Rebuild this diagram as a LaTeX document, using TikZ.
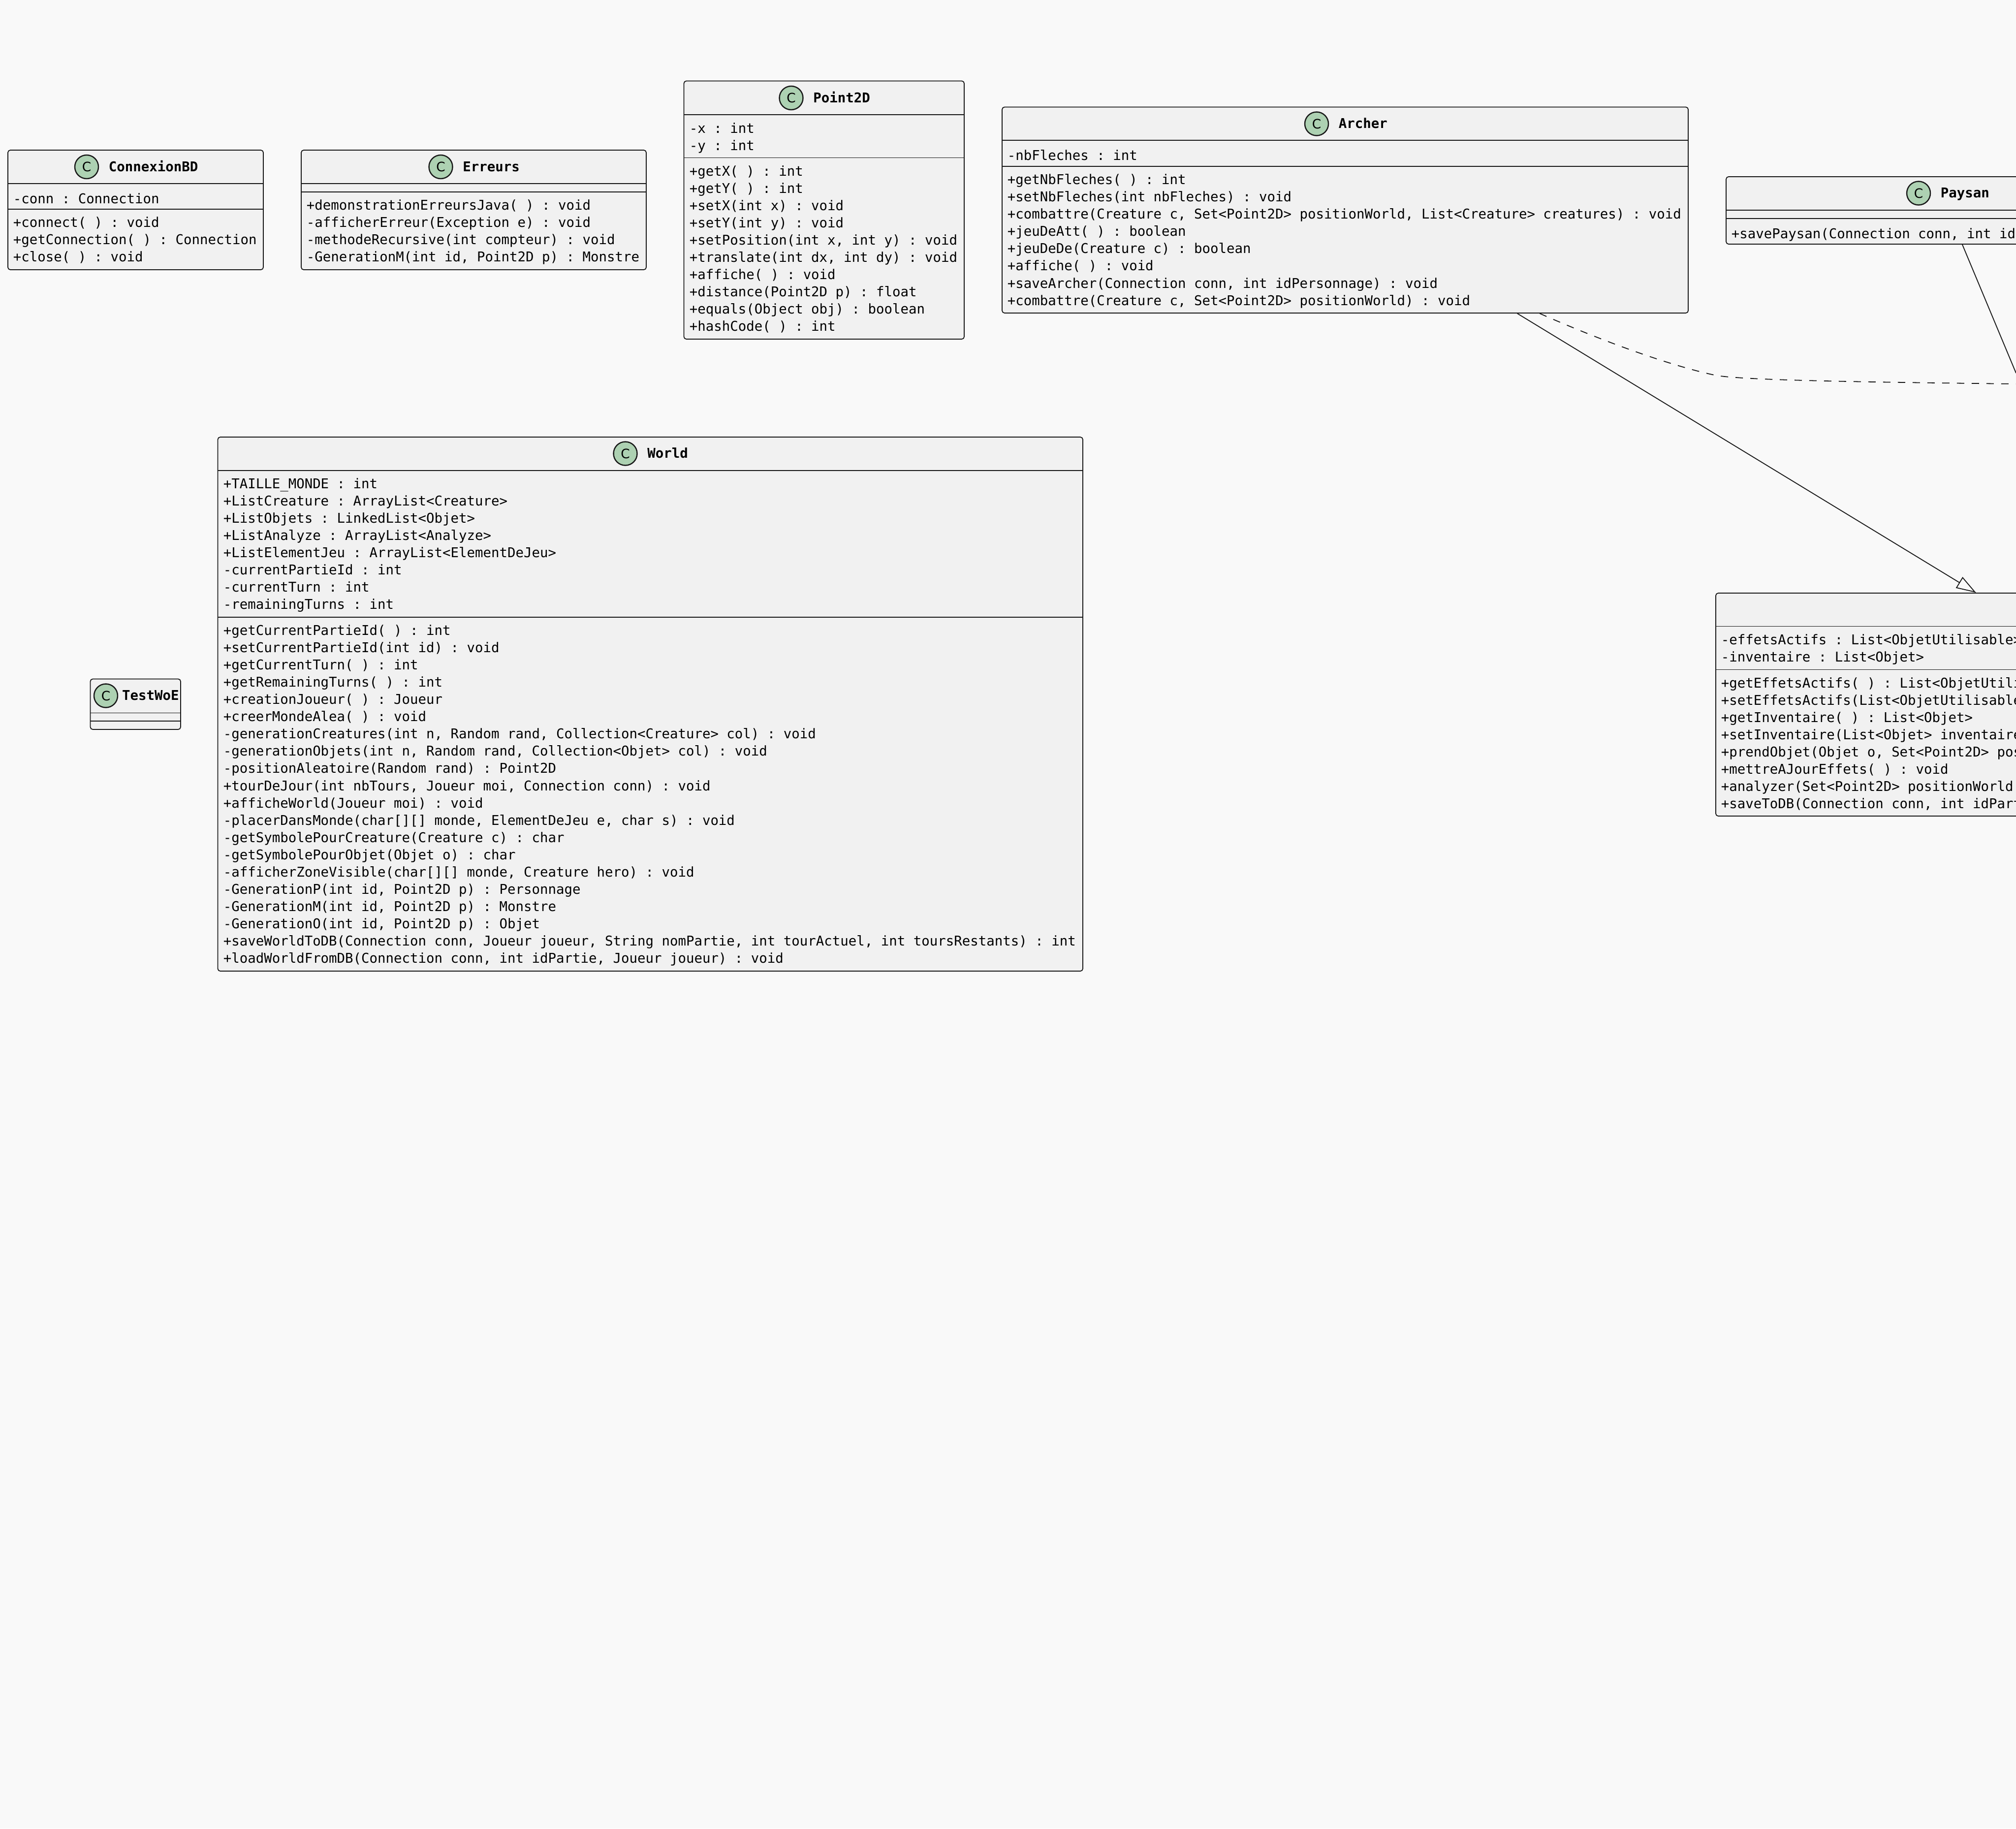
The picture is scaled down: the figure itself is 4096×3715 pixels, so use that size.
\documentclass[tikz,border=0pt]{standalone}
\usepackage{fontspec}
\usetikzlibrary{arrows.meta,fit,positioning}
\newfontfamily\umlfont{DejaVu Sans Mono}
\newfontfamily\badgefont{DejaVu Sans}
\definecolor{pagebg}{HTML}{F9F9F9}
\definecolor{boxbg}{HTML}{F1F1F1}
\definecolor{boxline}{HTML}{181818}
\definecolor{badgebg}{HTML}{ADD1B2}
\begin{document}
\begin{tikzpicture}[x=0.25pt,y=-0.25pt,
				classbox/.style={draw=boxline,fill=boxbg,line width=0.45pt,rounded corners=1.25pt,inner sep=0pt},
				badge/.style={circle,draw=boxline,fill=badgebg,line width=0.6pt,minimum size=12pt,inner sep=0pt,font=\badgefont\fontsize{6.6}{8}\selectfont},
				classname/.style={right=4.7pt of #1,inner sep=0pt,text height=5.5pt,text depth=1pt,font=\umlfont\bfseries\fontsize{6.85}{8.76}\selectfont},
				members/.style={anchor=north west,inner sep=0pt,align=left,execute at begin node=\strut,font=\umlfont\frenchspacing\fontsize{6.85}{8.76}\selectfont},
				sep/.style={draw=boxline,line width=0.45pt},
				inherit/.style={draw=boxline,line width=0.45pt,-{Triangle[open,length=10pt,width=6.5pt]}},
				uses/.style={draw=boxline,line width=0.45pt,dash pattern=on 3.75pt off 3.75pt}]
\useasboundingbox (0,0) rectangle (4096,3715);
\fill[pagebg] (0,0) rectangle (4096,3715);

\node[classbox,fit={(16,305) (535,548)}] (connexion) {};
\draw[sep] (16,373) -- (535,373);
\draw[sep] (16,425) -- (535,425);
\node[badge] (connexionc) at (176,339) {C};
\node[classname=connexionc] (connexionname) {ConnexionBD};
\node[members] (connexionattr) at (26,388) {-conn : Connection};
\node[members] (connexionmeth) at (26,440) {+connect( ) : void\\
	+getConnection( ) : Connection\\
	+close( ) : void};

\node[classbox,fit={(612,305) (1313,548)}] (erreurs) {};
\draw[sep] (612,373) -- (1313,373);
\draw[sep] (612,390) -- (1313,390);
\node[badge] (erreursc) at (895.5,339) {C};
\node[classname=erreursc] (erreursname) {Erreurs};
\node[members] (erreursmeth) at (622,405) {+demonstrationErreursJava( ) : void\\
	-afficherErreur(Exception e) : void\\
	-methodeRecursive(int compteur) : void\\
	-GenerationM(int id, Point2D p) : Monstre};

\node[classbox,fit={(1389.5,164.5) (1959,689)}] (point) {};
\draw[sep] (1389.5,233) -- (1959,233);
\draw[sep] (1389.5,320.5) -- (1959,320.5);
\node[badge] (pointc) at (1607.5,199) {C};
\node[classname=pointc] (pointname) {Point2D};
\node[members] (pointattr) at (1400,248.5) {-x : int\\
	-y : int};
\node[members] (pointmeth) at (1400,335.5) {+getX( ) : int\\
	+getY( ) : int\\
	+setX(int x) : void\\
	+setY(int y) : void\\
	+setPosition(int x, int y) : void\\
	+translate(int dx, int dy) : void\\
	+affiche( ) : void\\
	+distance(Point2D p) : float\\
	+equals(Object obj) : boolean\\
	+hashCode( ) : int};

\node[classbox,fit={(2036,217.5) (3430,636)}] (archer) {};
\draw[sep] (2036,285) -- (3430,285);
\draw[sep] (2036,338) -- (3430,338);
\node[badge] (archerc) at (2675,251.5) {C};
\node[classname=archerc] (archername) {Archer};
\node[members] (archerattr) at (2046,300) {-nbFleches : int};
\node[members] (archermeth) at (2046,353) {+getNbFleches( ) : int\\
	+setNbFleches(int nbFleches) : void\\
	+combattre(Creature c, Set<Point2D> positionWorld, List<Creature> creatures) : void\\
	+jeuDeAtt( ) : boolean\\
	+jeuDeDe(Creature c) : boolean\\
	+affiche( ) : void\\
	+saveArcher(Connection conn, int idPersonnage) : void\\
	+combattre(Creature c, Set<Point2D> positionWorld) : void};

\node[classbox,fit={(3507,359) (4393,496)}] (paysan) {};
\draw[sep] (3507,427) -- (4393,427);
\draw[sep] (3507,444) -- (4393,444);
\node[badge] (paysanc) at (3898,392.5) {C};
\node[classname=paysanc] (paysanname) {Paysan};
\node[members] (paysanmeth) at (3517,459) {+savePaysan(Connection conn, int id};

\node[classbox,fit={(442.5,888) (2200,1973)}] (world) {};
\draw[sep] (442.5,956) -- (2200,956);
\draw[sep] (442.5,1254) -- (2200,1254);
\node[badge] (worldc) at (1270.5,921.5) {C};
\node[classname=worldc] (worldname) {World};
\node[members] (worldattr) at (453,971) {+TAILLE\_MONDE : int\\
	+ListCreature : ArrayList<Creature>\\
	+ListObjets : LinkedList<Objet>\\
	+ListAnalyze : ArrayList<Analyze>\\
	+ListElementJeu : ArrayList<ElementDeJeu>\\
	-currentPartieId : int\\
	-currentTurn : int\\
	-remainingTurns : int};
\node[members] (worldmeth) at (453,1269) {+getCurrentPartieId( ) : int\\
	+setCurrentPartieId(int id) : void\\
	+getCurrentTurn( ) : int\\
	+getRemainingTurns( ) : int\\
	+creationJoueur( ) : Joueur\\
	+creerMondeAlea( ) : void\\
	-generationCreatures(int n, Random rand, Collection<Creature> col) : void\\
	-generationObjets(int n, Random rand, Collection<Objet> col) : void\\
	-positionAleatoire(Random rand) : Point2D\\
	+tourDeJour(int nbTours, Joueur moi, Connection conn) : void\\
	+afficheWorld(Joueur moi) : void\\
	-placerDansMonde(char[][] monde, ElementDeJeu e, char s) : void\\
	-getSymbolePourCreature(Creature c) : char\\
	-getSymbolePourObjet(Objet o) : char\\
	-afficherZoneVisible(char[][] monde, Creature hero) : void\\
	-GenerationP(int id, Point2D p) : Personnage\\
	-GenerationM(int id, Point2D p) : Monstre\\
	-GenerationO(int id, Point2D p) : Objet\\
	+saveWorldToDB(Connection conn, Joueur joueur, String nomPartie, int tourActuel, int toursRestants) : int\\
	+loadWorldFromDB(Connection conn, int idPartie, Joueur joueur) : void};

\node[classbox,fit={(183.5,1379.5) (367,1482)}] (testwoe) {};
\draw[sep] (183.5,1448.5) -- (367,1448.5);
\draw[sep] (183.5,1465) -- (367,1465);
\node[badge] (testwoec) at (215,1413.5) {C};
\node[classname=testwoec,right=1.8pt of testwoec] (testwoename) {TestWoE};

\node[classbox,fit={(3486,1205) (4700,1658)}] (personnage) {};
\draw[sep] (3486,1272.5) -- (4700,1272.5);
\draw[sep] (3486,1360.5) -- (4700,1360.5);
\node[members] (personnageattr) at (3496,1287.5) {-effetsActifs : List<ObjetUtilisable>\\
	-inventaire : List<Objet>};
\node[members] (personnagemeth) at (3496,1375.5) {+getEffetsActifs( ) : List<ObjetUtili\\
	+setEffetsActifs(List<ObjetUtilisable\\
	+getInventaire( ) : List<Objet>\\
	+setInventaire(List<Objet> inventaire\\
	+prendObjet(Objet o, Set<Point2D> pos\\
	+mettreAJourEffets( ) : void\\
	+analyzer(Set<Point2D> positionWorld,\\
	+saveToDB(Connection conn, int idPart};

\coordinate (paysanexit) at (4096,758);
\coordinate (usesexit) at (4096,780);
\draw[inherit] (archer.-31.39) -- (personnage.109.68);
\draw[inherit,-] (paysan.-62.9) -- (paysanexit);
\draw[uses] (archer.-28.4) .. controls (3260,695) and (3400,745) .. (3488,763) .. controls (3545,772) and (3750,776) .. (usesexit);
\end{tikzpicture}
\end{document}
